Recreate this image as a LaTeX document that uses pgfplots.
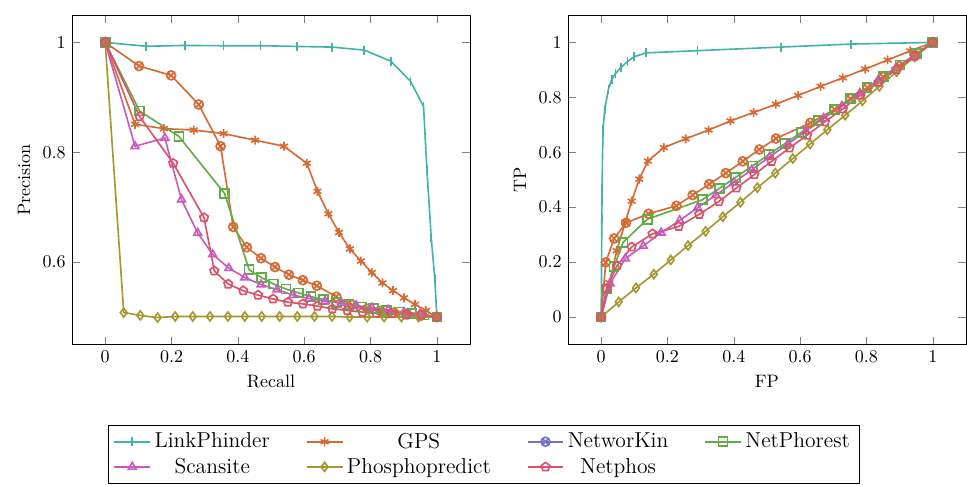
\documentclass[border=0pt]{standalone}
\usepackage{pgfplots}
\pgfplotsset{compat=1.18}
\usepackage{calc}

\definecolor{cLP}{HTML}{42B2AA}
\definecolor{cGPS}{HTML}{D66A32}
\definecolor{cNK}{HTML}{7570C8}
\definecolor{cNP}{HTML}{5FAC48}
\definecolor{cSC}{HTML}{C85ABE}
\definecolor{cPP}{HTML}{A5962D}
\definecolor{cNT}{HTML}{DA5269}

\newcommand{\cbox}[2]{\makebox[\widthof{#1}][c]{#2}}

\pgfplotsset{
  curve/.style={line width=0.9pt, mark size=2.5pt, mark options={solid}},
  every axis/.append style={
    scale only axis, width=221pt, height=183pt,
    xtick={0,0.2,...,1},
  },
}

\begin{document}
\begin{tikzpicture}
%% precision / recall
\begin{axis}[
    xmin=-0.1, xmax=1.1, ymin=0.45, ymax=1.05,
    ytick={0.6,0.8,1},
    xlabel={Recall}, ylabel={Precision},
    legend columns=4,
    legend style={font=\large, at={(1.034,-0.245)}, anchor=north,
      /tikz/every even column/.append style={column sep=18pt}},
    legend image code/.code={
      \draw[mark repeat=2,mark phase=2] plot coordinates {(0cm,0cm)(0.35cm,0cm)(0.7cm,0cm)};},
]
\addplot[curve, cLP, mark=|] coordinates {
  (0,1)(0.123,0.993)(0.240,0.9945)(0.357,0.994)(0.468,0.994)(0.579,0.9927)
  (0.684,0.9915)(0.781,0.986)(0.861,0.966)(0.921,0.929)(0.960,0.883)
  (0.970,0.769)(0.983,0.645)(0.994,0.569)(1,0.5)};
\addlegendentry{\cbox{LinkPhinder}{LinkPhinder}}

\addplot[curve, cGPS, mark=asterisk] coordinates {
  (0,1)(0.090,0.851)(0.177,0.843)(0.267,0.8405)(0.357,0.834)(0.452,0.822)
  (0.539,0.811)(0.608,0.780)(0.640,0.729)(0.673,0.688)(0.705,0.654)(0.738,0.624)
  (0.771,0.602)(0.804,0.581)(0.836,0.562)(0.868,0.548)(0.901,0.535)(0.934,0.523)
  (0.967,0.512)(1,0.5)};
\addlegendentry{\cbox{Phosphopredict}{GPS}}

\addplot[curve, cGPS, mark=otimes, forget plot] coordinates {
  (0,1)(0.102,0.957)(0.199,0.940)(0.282,0.887)(0.348,0.811)(0.386,0.664)
  (0.427,0.627)(0.470,0.607)(0.512,0.591)(0.554,0.577)(0.596,0.567)(0.638,0.557)
  (0.697,0.537)(0.745,0.522)(0.790,0.515)(0.830,0.511)(0.870,0.508)(0.910,0.505)
  (0.950,0.502)(1,0.5)};
\addlegendimage{curve, cNK, mark=otimes}
\addlegendentry{\cbox{NetworKin}{NetworKin}}

\addplot[curve, cNP, mark=square] coordinates {
  (0,1)(0.104,0.875)(0.222,0.829)(0.360,0.725)(0.434,0.586)(0.471,0.572)
  (0.508,0.560)(0.545,0.551)(0.583,0.544)(0.621,0.537)(0.659,0.532)(0.697,0.527)
  (0.735,0.523)(0.773,0.518)(0.809,0.515)(0.848,0.512)(0.886,0.509)(0.924,0.506)
  (0.961,0.504)(1,0.5)};
\addlegendentry{\cbox{NetPhorest}{NetPhorest}}

\addplot[curve, cSC, mark=triangle] coordinates {
  (0,1)(0.090,0.811)(0.180,0.826)(0.230,0.714)(0.279,0.653)(0.324,0.614)
  (0.373,0.589)(0.421,0.572)(0.470,0.559)(0.518,0.550)(0.566,0.540)(0.614,0.534)
  (0.663,0.529)(0.712,0.525)(0.757,0.521)(0.804,0.517)(0.853,0.513)(0.901,0.509)
  (0.949,0.506)(1,0.5)};
\addlegendentry{\cbox{LinkPhinder}{Scansite}}

\addplot[curve, cPP, mark=diamond] coordinates {
  (0,1)(0.056,0.508)(0.106,0.503)(0.158,0.499)(0.211,0.501)(0.264,0.501)
  (0.316,0.501)(0.370,0.501)(0.421,0.501)(0.472,0.501)(0.526,0.501)(0.579,0.501)
  (0.631,0.501)(0.684,0.501)(0.737,0.500)(0.790,0.500)(0.841,0.500)(0.893,0.500)
  (0.945,0.500)(1,0.5)};
\addlegendentry{\cbox{Phosphopredict}{Phosphopredict}}

\addplot[curve, cNT, mark=pentagon] coordinates {
  (0,1)(0.104,0.865)(0.205,0.780)(0.298,0.681)(0.329,0.584)(0.371,0.560)
  (0.416,0.548)(0.461,0.540)(0.506,0.533)(0.551,0.527)(0.596,0.524)(0.640,0.520)
  (0.685,0.515)(0.730,0.512)(0.776,0.509)(0.818,0.507)(0.863,0.506)(0.908,0.504)
  (0.954,0.504)(1,0.5)};
\addlegendentry{\cbox{NetworKin}{Netphos}}
\end{axis}

%% ROC
\begin{axis}[
    at={(275.4pt,0)},
    xmin=-0.1, xmax=1.1, ymin=-0.1, ymax=1.1,
    ytick={0,0.2,...,1},
    xlabel={FP}, ylabel={TP},
]
\addplot[curve, cLP, mark=|] coordinates {
  (0,0)(0.001,0.123)(0.0015,0.240)(0.002,0.357)(0.003,0.468)(0.004,0.579)
  (0.006,0.684)(0.011,0.757)(0.022,0.830)(0.032,0.865)(0.043,0.886)(0.060,0.909)
  (0.079,0.930)(0.0995,0.948)(0.136,0.962)(0.291,0.970)(0.542,0.983)(0.754,0.994)(1,1)};
\addplot[curve, cGPS, mark=asterisk] coordinates {
  (0,0)(0.025,0.125)(0.047,0.242)(0.073,0.345)(0.092,0.422)(0.115,0.502)
  (0.141,0.568)(0.189,0.617)(0.255,0.649)(0.324,0.681)(0.390,0.714)(0.460,0.745)
  (0.527,0.775)(0.594,0.807)(0.662,0.840)(0.729,0.871)(0.796,0.903)(0.864,0.936)
  (0.932,0.969)(1,1)};
\addplot[curve, cGPS, mark=otimes] coordinates {
  (0,0)(0.014,0.199)(0.039,0.286)(0.075,0.343)(0.143,0.376)(0.227,0.405)
  (0.276,0.444)(0.326,0.484)(0.376,0.524)(0.427,0.567)(0.477,0.610)(0.527,0.650)
  (0.631,0.707)(0.704,0.756)(0.752,0.795)(0.803,0.835)(0.851,0.874)(0.899,0.914)
  (0.949,0.953)(1,1)};
\addplot[curve, cNP, mark=square] coordinates {
  (0,0)(0.017,0.102)(0.039,0.183)(0.066,0.272)(0.139,0.356)(0.305,0.427)
  (0.356,0.468)(0.406,0.509)(0.456,0.550)(0.506,0.592)(0.555,0.632)(0.604,0.673)
  (0.655,0.715)(0.704,0.756)(0.752,0.795)(0.802,0.835)(0.852,0.877)(0.901,0.918)
  (0.951,0.959)(1,1)};
\addplot[curve, cSC, mark=triangle] coordinates {
  (0,0)(0.027,0.122)(0.073,0.213)(0.127,0.259)(0.181,0.307)(0.237,0.352)
  (0.291,0.398)(0.346,0.444)(0.400,0.490)(0.454,0.536)(0.508,0.583)(0.563,0.630)
  (0.617,0.677)(0.671,0.724)(0.726,0.768)(0.780,0.815)(0.835,0.862)(0.890,0.907)
  (0.945,0.954)(1,1)};
\addplot[curve, cPP, mark=diamond] coordinates {
  (0,0)(0.053,0.055)(0.105,0.106)(0.159,0.156)(0.210,0.208)(0.262,0.260)
  (0.315,0.312)(0.367,0.365)(0.420,0.418)(0.471,0.471)(0.525,0.524)(0.578,0.577)
  (0.630,0.630)(0.682,0.682)(0.736,0.735)(0.788,0.787)(0.839,0.840)(0.891,0.893)
  (0.945,0.947)(1,1)};
\addplot[curve, cNT, mark=pentagon] coordinates {
  (0,0)(0.016,0.104)(0.048,0.187)(0.092,0.255)(0.155,0.303)(0.234,0.330)
  (0.296,0.374)(0.355,0.421)(0.408,0.470)(0.462,0.519)(0.514,0.567)(0.568,0.616)
  (0.621,0.662)(0.675,0.711)(0.729,0.758)(0.782,0.808)(0.837,0.855)(0.890,0.901)
  (0.945,0.950)(1,1)};
\end{axis}
\pgfresetboundingbox
\path[use as bounding box] (-40pt,-77.7pt) rectangle (497pt,191.3pt);
\end{tikzpicture}
\end{document}
